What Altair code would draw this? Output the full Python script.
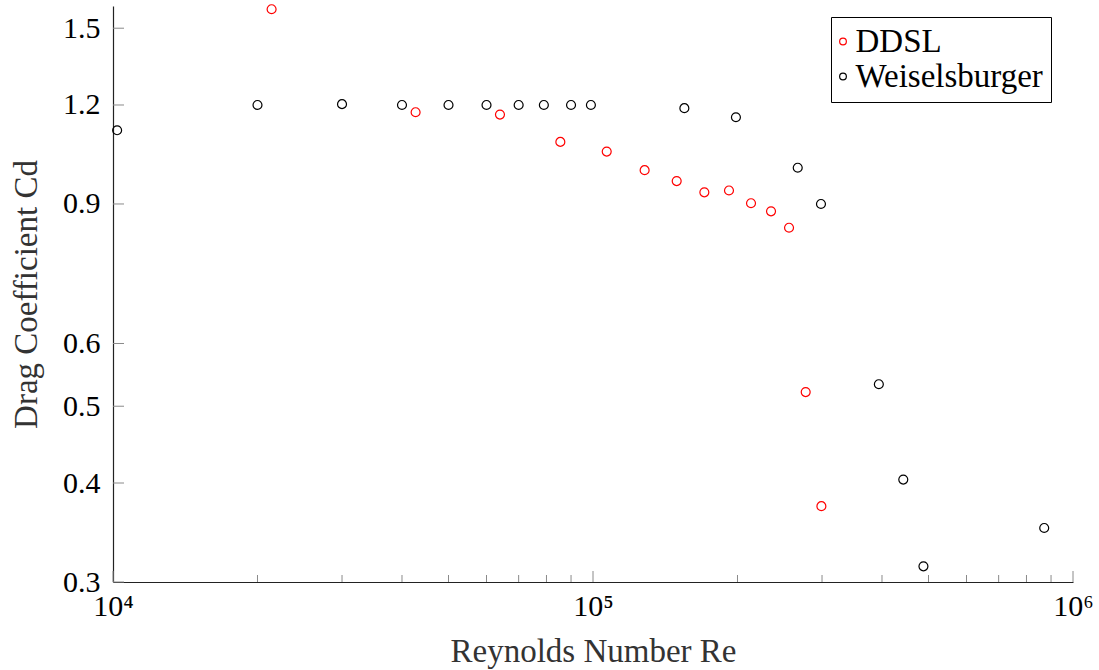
import altair as alt
import pandas as pd

# DDSL measurements
ddsl_re = [21400, 42700, 64000, 85500, 106800, 128100, 149400, 170600, 192000,
           213400, 234900, 256100, 277400, 299100]
ddsl_cd = [1.585, 1.175, 1.167, 1.078, 1.048, 0.993, 0.962, 0.931, 0.936,
           0.902, 0.881, 0.840, 0.521, 0.374]

# Weiselsburger reference data
weis_re = [10200, 20000, 30000, 40000, 50000, 60000, 70000, 79000, 90000,
           99000, 155000, 198500, 267000, 298500, 394000, 443000, 488000, 871000]
weis_cd = [1.115, 1.200, 1.203, 1.200, 1.200, 1.200, 1.200, 1.200, 1.200,
           1.200, 1.189, 1.158, 1.000, 0.900, 0.533, 0.404, 0.314, 0.351]

series_names = ["DDSL", "Weiselsburger"]
series_colors = ["#ff0000", "#000000"]

x_major = [1e4, 1e5, 1e6]
x_minor = [k * 10 ** e for e in (4, 5) for k in range(2, 10)]
y_ticks = [0.3, 0.4, 0.5, 0.6, 0.9, 1.2, 1.5]

points = pd.DataFrame(
    {"Re": ddsl_re + weis_re,
     "Cd": ddsl_cd + weis_cd,
     "series": ["DDSL"] * len(ddsl_re) + ["Weiselsburger"] * len(weis_re)}
)

FONT = "Liberation Serif"
LABEL_SIZE = 30
LEGEND_SIZE = 33
W, H = 960, 576
x_scale = alt.Scale(type="log", domain=[1e4, 1e6], nice=False)
y_scale = alt.Scale(type="log", domain=[0.3, 1.6], nice=False)

# the legend's symbol column is as wide as its label font size; pull symbols and labels left
sym_shift = 4 - LEGEND_SIZE / 2
lab_shift = -4

scatter = alt.Chart(points).mark_point(
    filled=False, shape="circle", size=80, strokeWidth=1.2, opacity=1
).encode(
    x=alt.X("Re:Q", scale=x_scale, title="Reynolds Number Re",
            axis=alt.Axis(values=x_major, ticks=False, grid=False, labelFlush=False,
                          labelFont=FONT, labelFontSize=LABEL_SIZE,
                          labelExpr="datum.value == 10000 ? '10⁴' : datum.value == 100000 ? '10⁵' : '10⁶'",
                          labelPadding=9, titlePadding=14)),
    y=alt.Y("Cd:Q", scale=y_scale, title="Drag Coefficient Cd",
            axis=alt.Axis(values=y_ticks, format=".1f", ticks=False, grid=False,
                          labelFlush=False, labelFont=FONT, labelFontSize=LABEL_SIZE,
                          labelPadding=13, titlePadding=19)),
    color=alt.Color("series:N",
                    scale=alt.Scale(domain=series_names, range=series_colors),
                    legend=alt.Legend(title=None, orient="none", legendX=718, legendY=11,
                                      strokeColor="black", fillColor="white",
                                      padding=8, rowPadding=1, symbolSize=45,
                                      symbolStrokeWidth=1.2,
                                      symbolOffset={"expr": str(sym_shift)},
                                      labelOffset={"expr": str(lab_shift)},
                                      labelFontSize=LEGEND_SIZE, labelFont=FONT,
                                      labelLimit=400, cornerRadius=0)),
)

tick_color = "#8a8a8a"

major_x = alt.Chart(pd.DataFrame({"v": x_major})).mark_rule(
    color=tick_color, strokeWidth=1
).encode(x=alt.X("v:Q", scale=x_scale), y=alt.value(H), y2=alt.value(H - 11))

minor_x = alt.Chart(pd.DataFrame({"v": x_minor})).mark_rule(
    color=tick_color, strokeWidth=1
).encode(x=alt.X("v:Q", scale=x_scale), y=alt.value(H), y2=alt.value(H - 7))

ticks_y = alt.Chart(pd.DataFrame({"v": y_ticks})).mark_rule(
    color=tick_color, strokeWidth=1
).encode(y=alt.Y("v:Q", scale=y_scale), x=alt.value(0), x2=alt.value(11))

chart = alt.layer(major_x, minor_x, ticks_y, scatter).properties(
    width=W, height=H,
    autosize=alt.AutoSizeParams(type="none"),
    padding={"left": 113, "top": 6, "right": 26, "bottom": 88},
).configure_view(
    stroke=None
).configure_axis(
    domainColor="#222222", domainWidth=1.2,
    labelFont=FONT, labelFontSize=LABEL_SIZE, labelColor="black",
    titleFont=FONT, titleFontSize=33, titleFontWeight="normal", titleColor="#333333",
)

chart.save("out.html", embed_options={"renderer": "svg", "actions": False})
